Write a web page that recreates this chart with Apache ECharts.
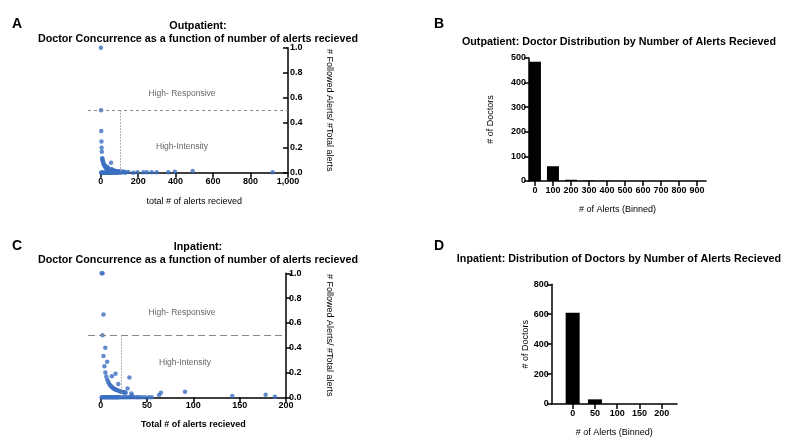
<!DOCTYPE html>
<html><head><meta charset="utf-8">
<script src="https://cdn.jsdelivr.net/npm/echarts@6/dist/echarts.min.js"></script>
<style>html,body{margin:0;padding:0;background:#fff}#c{width:800px;height:446px}</style>
</head><body><div id="c"></div>
<script>
// ---- Data ----
const outpatientPoints = [
  [1,1.0],[2,0.5],[3,0.333],[4,0.25],[5,0.2],[6,0.167],[9,0.111],[8,0.115],
  [10,0.1],[12,0.09],[14,0.08],[15,0.07],[18,0.065],[20,0.06],[22,0.05],[25,0.045],
  [28,0.04],[30,0.035],[32,0.05],[35,0.03],[38,0.025],[40,0.04],[45,0.022],[50,0.02],
  [55,0.08],[58,0.03],[60,0.017],[65,0.015],[70,0.02],[75,0.013],[80,0.012],[85,0.01],
  [90,0.011],[95,0.01],[100,0.01],[110,0.009],[120,0.008],[130,0.008],[147,0.006],
  [2,0],[4,0],[6,0],[8,0],[10,0],[12,0],[15,0],[18,0],[20,0],[23,0],[26,0],[30,0],
  [33,0],[36,0],[40,0],[44,0],[48,0],[52,0],[56,0],[60,0],[65,0],[70,0],[75,0],[80,0],
  [88,0],[95,0],[109,0],[130,0],[174,0],[196,0.003],[228,0.003],[246,0.003],[272,0.003],
  [299,0.003],[361,0.003],[396,0.008],[491,0.014],[918,0.003]
];
const inpatientPoints = [
  [1,1],[2,1],[3,0.667],[2,0.5],[5,0.4],[3,0.333],[7,0.286],[4,0.25],[5,0.2],[6,0.167],
  [12,0.17],[16,0.19],[7,0.143],[8,0.125],[9,0.111],[10,0.1],[11,0.091],[12,0.083],
  [13,0.077],[14,0.071],[15,0.067],[16,0.063],[17,0.059],[18,0.056],[19,0.107],[20,0.05],
  [21,0.048],[22,0.045],[23,0.043],[24,0.042],[25,0.04],[26,0.038],[27,0.037],[29,0.07],
  [31,0.16],[33,0.03],[34,0.015],[63,0.018],[65,0.037],[91,0.045],[142,0.01],[178,0.02],[188,0.005],
  [1,0],[2,0],[3,0],[4,0],[5,0],[6,0],[7,0],[8,0],[9,0],[10,0],[11,0],[12,0],[13,0],[14,0],
  [15,0],[16,0],[17,0],[18,0],[19,0],[20,0],[22,0],[24,0],[26,0],[28,0],[30,0],[32,0],
  [35,0],[38,0],[40,0],[42,0],[45,0],[48,0],[52,0],[55,0]
];
const outpatientBins = [0,100,200,300,400,500,600,700,800,900];
const outpatientCounts = [485,60,5,2,1,0,0,0,0,0];
const inpatientBins = [0,50,100,150,200];
const inpatientCounts = [610,31,0,0,0];
const outpatientCutoffX = 103;
const inpatientCutoffX = 22;
const cutoffY = 0.5;

// ---- Chart ----
const FONT = '"Liberation Sans", Arial, sans-serif';
const BLUE = '#3b6fc2';
const axisLine = {show:true, onZero:false, lineStyle:{color:'#000', width:1.5}};
const axisTick = {show:true, length:5, lineStyle:{color:'#000', width:1.5}};
const lbl = {color:'#000', fontWeight:'bold', fontSize:9, fontFamily:FONT};
const nameStyle = {color:'#000', fontSize:9, fontFamily:FONT};
const hiddenAxis = {show:false, splitLine:{show:false}};

function title(text, x, y, size, weight, color){
  return {text:text, left:x, top:y, textAlign:'center',
    textStyle:{fontFamily:FONT, fontSize:size, fontWeight:weight||'bold', color:color||'#000', lineHeight:size+2.5}};
}

const chart = echarts.init(document.getElementById('c'), null, {renderer:'canvas'});
chart.setOption({
  animation:false,
  title:[
    {text:'A', left:7, top:12, textStyle:{fontFamily:FONT,fontSize:14,fontWeight:'bold',color:'#000'}},
    {text:'B', left:429, top:12, textStyle:{fontFamily:FONT,fontSize:14,fontWeight:'bold',color:'#000'}},
    {text:'C', left:7, top:234, textStyle:{fontFamily:FONT,fontSize:14,fontWeight:'bold',color:'#000'}},
    {text:'D', left:429, top:234, textStyle:{fontFamily:FONT,fontSize:14,fontWeight:'bold',color:'#000'}},
    title('Outpatient:\nDoctor Concurrence as a function of number of alerts recieved', 193, 14, 10.75),
    title('Outpatient: Doctor Distribution by Number of Alerts Recieved', 614, 30, 10.75),
    title('Inpatient:\nDoctor Concurrence as a function of number of alerts recieved', 193, 235, 10.75),
    title('Inpatient: Distribution of Doctors by Number of Alerts Recieved', 614, 247, 10.75),
    title('High- Responsive', 177, 83, 8.5, 'normal', '#666'),
    title('High-Intensity', 177, 136, 8.5, 'normal', '#666'),
    title('High- Responsive', 177, 302, 8.5, 'normal', '#666'),
    title('High-Intensity', 180, 352, 8.5, 'normal', '#666')
  ],
  grid:[
    {left:100.7, top:47.7, width:187.3, height:125},
    {left:529, top:58, width:177, height:123},
    {left:100.7, top:273.3, width:185.3, height:124},
    {left:551.7, top:284.3, width:125.3, height:119.7},
    {left:88, top:47.7, width:200, height:125},
    {left:88, top:273.3, width:198, height:124}
  ],
  xAxis:[
    {gridIndex:0, type:'value', min:0, max:1000, interval:200, axisLine, axisTick, splitLine:{show:false},
     axisLabel:Object.assign({}, lbl, {margin:4, formatter:v=>v===1000?'1,000':String(v)}),
     name:'total # of alerts recieved', nameLocation:'middle', nameGap:24, nameTextStyle:nameStyle},
    {gridIndex:1, type:'value', min:-33, max:950, axisLine, axisTick:Object.assign({},axisTick,{customValues:outpatientBins}), splitLine:{show:false},
     axisLabel:Object.assign({}, lbl, {margin:5, customValues:outpatientBins}),
     name:'# of Alerts (Binned)', nameLocation:'middle', nameGap:24, nameTextStyle:nameStyle},
    {gridIndex:2, type:'value', min:0, max:200, interval:50, axisLine, axisTick, splitLine:{show:false},
     axisLabel:Object.assign({}, lbl, {margin:4}),
     name:'Total # of alerts recieved', nameLocation:'middle', nameGap:23, nameTextStyle:Object.assign({},nameStyle,{fontWeight:'bold'})},
    {gridIndex:3, type:'value', min:-47, max:234, axisLine, axisTick:Object.assign({},axisTick,{customValues:inpatientBins}), splitLine:{show:false},
     axisLabel:Object.assign({}, lbl, {margin:5, customValues:inpatientBins}),
     name:'# of Alerts (Binned)', nameLocation:'middle', nameGap:24, nameTextStyle:nameStyle},
    Object.assign({gridIndex:4, type:'value', min:-68, max:1000}, hiddenAxis),
    Object.assign({gridIndex:5, type:'value', min:-13.7, max:200}, hiddenAxis)
  ],
  yAxis:[
    {gridIndex:0, type:'value', position:'right', min:0, max:1, interval:0.2, axisLine,
     axisTick:Object.assign({},axisTick,{inside:true}), splitLine:{show:false},
     axisLabel:Object.assign({}, lbl, {margin:2, formatter:v=>v.toFixed(1)}),
     name:'# Followed Alerts/ #Total alerts', nameLocation:'middle', nameRotate:-90, nameGap:37, nameTextStyle:nameStyle},
    {gridIndex:1, type:'value', min:0, max:500, interval:100, axisLine, axisTick, splitLine:{show:false},
     axisLabel:Object.assign({}, lbl, {margin:3}),
     name:'# of Doctors', nameLocation:'middle', nameGap:34, nameTextStyle:nameStyle},
    {gridIndex:2, type:'value', position:'right', min:0, max:1, interval:0.2, axisLine, axisTick, splitLine:{show:false},
     axisLabel:Object.assign({}, lbl, {margin:3, formatter:v=>v.toFixed(1)}),
     name:'# Followed Alerts/ #Total alerts', nameLocation:'middle', nameRotate:-90, nameGap:39, nameTextStyle:nameStyle},
    {gridIndex:3, type:'value', min:0, max:800, interval:200, axisLine, axisTick, splitLine:{show:false},
     axisLabel:Object.assign({}, lbl, {margin:3}),
     name:'# of Doctors', nameLocation:'middle', nameGap:22, nameTextStyle:nameStyle},
    Object.assign({gridIndex:4, type:'value', min:0, max:1}, hiddenAxis),
    Object.assign({gridIndex:5, type:'value', min:0, max:1}, hiddenAxis)
  ],
  series:[
    {type:'scatter', xAxisIndex:4, yAxisIndex:4, data:[], silent:true,
     markLine:{silent:true, symbol:'none', label:{show:false}, animation:false,
       data:[[{coord:[-68,cutoffY], lineStyle:{type:[3,3], color:'#888', width:1}}, {coord:[1000,cutoffY]}]]}},
    {type:'scatter', xAxisIndex:5, yAxisIndex:5, data:[], silent:true,
     markLine:{silent:true, symbol:'none', label:{show:false}, animation:false,
       data:[[{coord:[-13.7,cutoffY], lineStyle:{type:[7,4], color:'#888', width:1}}, {coord:[200,cutoffY]}]]}},
    {type:'scatter', xAxisIndex:0, yAxisIndex:0, data:outpatientPoints, symbolSize:4.5, clip:false,
     itemStyle:{color:BLUE},
     markLine:{silent:true, symbol:'none', label:{show:false}, animation:false,
       data:[[{coord:[outpatientCutoffX,cutoffY], lineStyle:{type:[1.5,1.5], color:'#999', width:1}}, {coord:[outpatientCutoffX,0]}]]}},
    {type:'bar', xAxisIndex:1, yAxisIndex:1, data:outpatientBins.map((b,i)=>[b,outpatientCounts[i]]),
     barWidth:12, itemStyle:{color:'#000'}},
    {type:'scatter', xAxisIndex:2, yAxisIndex:2, data:inpatientPoints, symbolSize:4.5, clip:false,
     itemStyle:{color:BLUE},
     markLine:{silent:true, symbol:'none', label:{show:false}, animation:false,
       data:[[{coord:[inpatientCutoffX,cutoffY], lineStyle:{type:[1.5,1.5], color:'#999', width:1}}, {coord:[inpatientCutoffX,0]}]]}},
    {type:'bar', xAxisIndex:3, yAxisIndex:3, data:inpatientBins.map((b,i)=>[b,inpatientCounts[i]]),
     barWidth:14, itemStyle:{color:'#000'}}
  ]
});
</script></body></html>
